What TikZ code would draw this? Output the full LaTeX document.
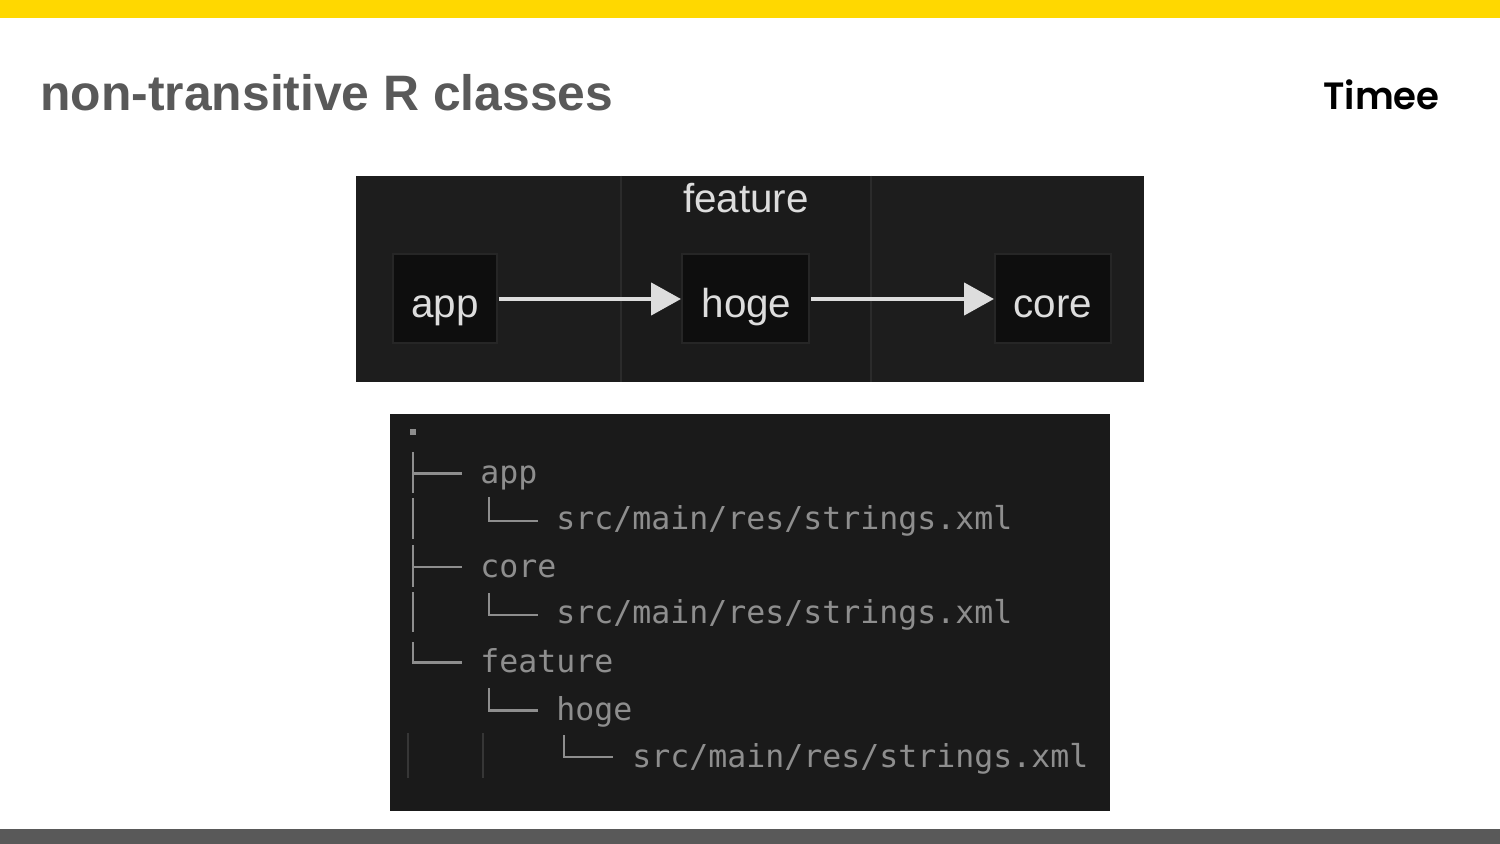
\documentclass[tikz,border=0pt]{standalone}
\usepackage{fontspec}
\setmainfont{Liberation Sans}
\newfontfamily\treefont{DejaVu Sans Mono}
\newfontfamily\logofont{Poppins SemiBold}
\usetikzlibrary{arrows.meta}
\definecolor{barY}{HTML}{FFD800}
\definecolor{slate}{HTML}{595959}
\definecolor{panelA}{HTML}{1D1D1D}
\definecolor{panelB}{HTML}{1B1B1B}
\definecolor{panelC}{HTML}{1A1A1A}
\definecolor{seam}{HTML}{2B2B2B}
\definecolor{boxfill}{HTML}{0E0E0E}
\definecolor{boxline}{HTML}{262626}
\definecolor{light}{HTML}{DDDDDD}
\definecolor{treetext}{HTML}{8E8E8E}
\definecolor{faint}{HTML}{363636}
\tikzset{
  modbox/.style={draw=boxline,line width=1pt,fill=boxfill,text=light,inner sep=0pt,
    font=\fontsize{20.2}{24}\selectfont,text height=20.2pt,text depth=1.7pt,align=center},
  dep/.style={draw=light,line width=2.3pt,-{Triangle[length=15pt,width=16pt]},shorten <=0.5pt},
  treelabel/.style={anchor=base west,inner sep=0pt,text=treetext,font=\treefont\fontsize{15.78}{18}\selectfont},
  treeline/.style={draw=treetext,line width=1.4pt},
  faintline/.style={draw=faint,line width=0.7pt}
}
\begin{document}
\begin{tikzpicture}[x=0.5pt,y=-0.5pt]
\useasboundingbox (0,0) rectangle (1500,844);
\fill[white] (0,0) rectangle (1500,844);
\fill[barY] (0,0) rectangle (1500,18);
\fill[slate] (0,829) rectangle (1500,844);
\node[anchor=base west,inner sep=0pt,text=slate,font=\bfseries\fontsize{24.9}{30}\selectfont] (title) at (40,111) {non-transitive R classes};
\node[anchor=base west,inner sep=0pt,text=black,xscale=0.975,font=\logofont\fontsize{19}{24}\selectfont] (logo) at (1323,109.5) {Timee};
% upper panel
\fill[panelA] (356,176) rectangle (1144,382);
\fill[panelB] (621,176) rectangle (871,382);
\draw[seam,line width=0.7pt] (621,176) -- (621,382) (871,176) -- (871,382);
\node[anchor=base,inner sep=0pt,text=light,font=\fontsize{20.2}{24}\selectfont] (feature) at (746,213) {feature};
\node[modbox,minimum width=52pt,minimum height=44.5pt] (app) at (445,299) {app};
\node[modbox,minimum width=63.5pt,minimum height=44.5pt] (hoge) at (745.5,299) {\hspace{1pt}hoge};
\node[modbox,minimum width=58pt,minimum height=44.5pt] (core) at (1053,299) {core};
\draw[dep] (app) -- (hoge);
\draw[dep] (hoge) -- (core);
% lower panel
\fill[panelC] (390,414) rectangle (1110,811);
\fill[treetext] (409.5,429) rectangle (415.5,435);
\draw[treeline] (413,452) -- (413,493) (413,473.5) -- (462,473.5);
\draw[treeline] (413,498) -- (413,539);
\draw[treeline] (413,545) -- (413,587) (413,567) -- (462,567);
\draw[treeline] (413,592) -- (413,632);
\draw[treeline] (413,642) -- (413,662.5) -- (462,662.5);
\draw[treeline] (489,497) -- (489,521) -- (538,521);
\draw[treeline] (489,593) -- (489,615) -- (538,615);
\draw[treeline] (489,688) -- (489,710.5) -- (538,710.5);
\draw[treeline] (564,735) -- (564,757) -- (613,757);
\draw[faintline] (408,733) -- (408,778) (483,733) -- (483,778);
\node[treelabel] (tapp) at (480,484) {app};
\node[treelabel] (tappsrc) at (556,530) {src/main/res/strings.xml};
\node[treelabel] (tcore) at (480,577.5) {core};
\node[treelabel] (tcoresrc) at (556,624) {src/main/res/strings.xml};
\node[treelabel] (tfeature) at (480,672.5) {feature};
\node[treelabel] (thoge) at (556,720) {hoge};
\node[treelabel] (thogesrc) at (632,767) {src/main/res/strings.xml};
\end{tikzpicture}
\end{document}
